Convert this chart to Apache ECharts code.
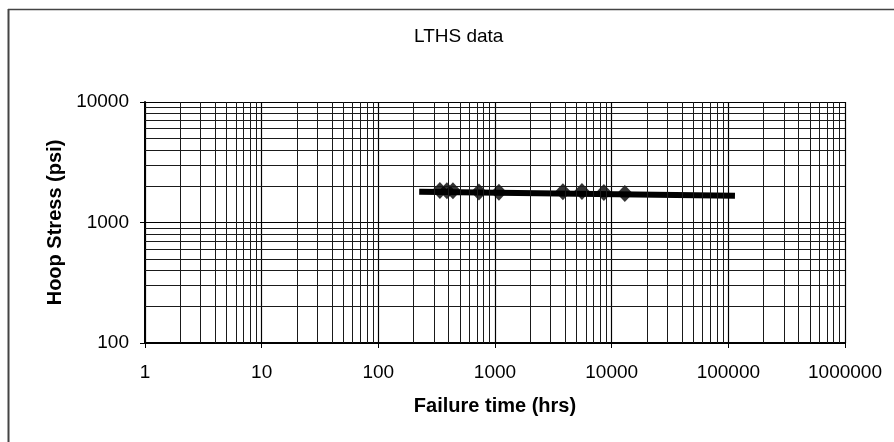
<!DOCTYPE html>
<html>
<head>
<meta charset="utf-8">
<script src="https://cdn.jsdelivr.net/npm/echarts@6/dist/echarts.min.js"></script>
<style>html,body{margin:0;padding:0;background:#fff}#c{width:894px;height:442px}</style>
</head>
<body>
<div id="c"></div>
<script>
// Data
var failureHours = [337, 387, 436, 728, 1080, 3820, 5560, 8570, 12970];
var hoopStress   = [1840, 1835, 1830, 1790, 1780, 1800, 1810, 1770, 1740];
var trendHours   = [224, 114000];
var trendStress  = [1802, 1670];
var xDecades = [1, 10, 100, 1000, 10000, 100000];
var yDecades = [100, 1000];
var minorMultipliers = [2, 3, 4, 5, 6, 7, 8, 9];

var pts = failureHours.map(function (h, i) { return [h, hoopStress[i]]; });
var trend = trendHours.map(function (h, i) { return [h, trendStress[i]]; });

var minorLines = [];
xDecades.forEach(function (d) { minorMultipliers.forEach(function (m) { minorLines.push({ xAxis: d * m }); }); });
yDecades.forEach(function (d) { minorMultipliers.forEach(function (m) { minorLines.push({ yAxis: d * m }); }); });

var font = '"Liberation Sans", Arial, sans-serif';
var chart = echarts.init(document.getElementById('c'), null, { renderer: 'canvas' });
chart.setOption({
  animation: false,
  backgroundColor: '#fff',
  title: {
    text: 'LTHS data', left: 409, top: 22,
    textStyle: { fontFamily: font, fontSize: 19, fontWeight: 'normal', color: '#000' }
  },
  graphic: [
    { type: 'line', shape: { x1: 8.5, y1: 9, x2: 8.5, y2: 442 }, style: { stroke: '#444', lineWidth: 2 } },
    { type: 'line', shape: { x1: 8, y1: 9.5, x2: 894, y2: 9.5 }, style: { stroke: '#444', lineWidth: 1.5 } }
  ],
  grid: { left: 145, right: 49, top: 102, bottom: 99 },
  xAxis: {
    type: 'log', logBase: 10, min: 1, max: 1000000,
    name: 'Failure time (hrs)', nameLocation: 'middle', nameGap: 53,
    nameTextStyle: { fontFamily: font, fontSize: 20, fontWeight: 'bold', color: '#000' },
    axisLine: { show: true, lineStyle: { color: '#000', width: 2 } },
    axisTick: { show: true, inside: false, length: 5, lineStyle: { color: '#000', width: 1 } },
    axisLabel: { fontFamily: font, fontSize: 19, color: '#000', margin: 20,
      formatter: function (v) { return String(Math.round(v)); } },
    splitLine: { show: true, lineStyle: { color: '#000', width: 1.2 } },
    minorTick: { show: false }, minorSplitLine: { show: false }
  },
  yAxis: {
    type: 'log', logBase: 10, min: 100, max: 10000,
    name: 'Hoop Stress (psi)', nameLocation: 'middle', nameGap: 80, nameRotate: 90,
    nameTextStyle: { fontFamily: font, fontSize: 20, fontWeight: 'bold', color: '#000' },
    axisLine: { show: true, lineStyle: { color: '#000', width: 2 } },
    axisTick: { show: true, inside: false, length: 5, lineStyle: { color: '#000', width: 1 } },
    axisLabel: { fontFamily: font, fontSize: 19, color: '#000', margin: 16,
      formatter: function (v) { return String(Math.round(v)); } },
    splitLine: { show: true, lineStyle: { color: '#000', width: 1.2 } }
  },
  series: [
    {
      type: 'line', data: [], z: 1, silent: true,
      markLine: {
        silent: true, symbol: ['none', 'none'], animation: false,
        label: { show: false },
        lineStyle: { color: '#1a1a1a', width: 1, type: 'solid' },
        emphasis: { disabled: true },
        data: minorLines
      }
    },
    {
      type: 'line', data: trend, z: 3, showSymbol: false, symbol: 'none',
      lineStyle: { color: '#000', width: 6 }
    },
    {
      type: 'scatter', data: pts, z: 4, symbol: 'diamond', symbolSize: [16, 17],
      itemStyle: { color: '#000' }
    }
  ]
});
</script>
</body>
</html>
